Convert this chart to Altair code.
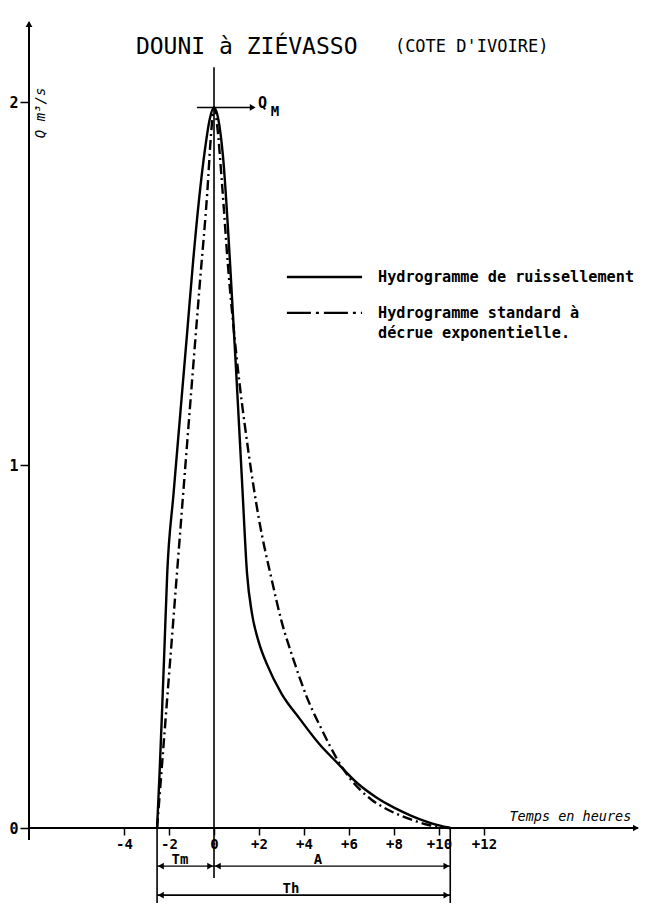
import altair as alt
import pandas as pd

# ---------------- data ----------------
TITLE_MAIN = "DOUNI à ZIÉVASSO"
TITLE_SUB = "(COTE D'IVOIRE)"

# Hydrogramme de ruissellement (solid line)
ruis_t = [-2.53, -2.42, -2.31, -2.20, -2.08, -1.80, -1.50, -1.20, -0.93, -0.65, -0.40, -0.20, 0.00,
          0.20, 0.40, 0.71, 1.00, 1.25, 1.47, 1.69, 2.00, 2.36, 3.00, 3.82, 4.70, 5.47, 6.36,
          7.20, 8.00, 8.80, 9.47, 10.00, 10.50]
ruis_q = [0.00, 0.15, 0.32, 0.50, 0.70, 0.92, 1.14, 1.36, 1.56, 1.74, 1.87, 1.95, 1.985,
          1.95, 1.85, 1.56, 1.24, 0.95, 0.70, 0.59, 0.51, 0.45, 0.37, 0.30, 0.23, 0.18, 0.124,
          0.085, 0.056, 0.033, 0.017, 0.007, 0.0]

# Hydrogramme standard a decrue exponentielle (dash-dot line)
std_t = [-2.53, -1.90, -1.27, -0.63, -0.30, -0.12, 0.00, 0.15, 0.35, 0.62, 1.00, 1.50, 2.00,
         2.58, 3.00, 3.50, 4.13, 4.80, 5.47, 6.00, 6.50, 7.00, 7.50, 8.00, 8.50, 9.00, 9.50,
         10.00, 10.50]
std_q = [0.00, 0.50, 1.00, 1.50, 1.75, 1.92, 1.985, 1.93, 1.78, 1.55, 1.30, 1.05, 0.85,
         0.68, 0.57, 0.47, 0.36, 0.27, 0.19, 0.14, 0.105, 0.078, 0.058, 0.042, 0.029, 0.018, 0.009,
         0.003, 0.0]

x_ticks = [-4, -2, 0, 2, 4, 6, 8, 10, 12]
y_ticks = [0, 1, 2]

Q_MAX = 1.985
T_START = -2.53
T_END = 10.50

legend_labels = ["Hydrogramme de ruissellement", "Hydrogramme standard à", "décrue exponentielle."]

# ---------------- geometry ----------------
W, H = 632, 895
t_dom = [-9.1556, 18.9333]
q_dom = [-0.2066, 2.2590]
xs = alt.Scale(domain=t_dom, nice=False, zero=False)
ys = alt.Scale(domain=q_dom, nice=False, zero=False)
MONO = "DejaVu Sans Mono"

x_axis = alt.Axis(values=x_ticks, offset=-75, domain=False, grid=False, ticks=True,
                  tickSize=7, tickWidth=1.5, tickColor="black",
                  labelExpr="datum.value > 0 ? '+' + datum.value : '' + datum.value",
                  labelFont=MONO, labelFontSize=14, labelFontWeight="bold", labelColor="black",
                  labelPadding=2, labelOverlap=False, title=None)
y_axis = alt.Axis(values=y_ticks, offset=-21, domain=False, grid=False, ticks=True,
                  tickSize=9, tickWidth=1.5, tickColor="black",
                  labelFont=MONO, labelFontSize=15, labelFontWeight="bold", labelColor="black",
                  labelPadding=2, labelOverlap=False, title=None)


def X(f):
    return alt.X(f, type="quantitative", scale=xs, axis=x_axis)


def Y(f):
    return alt.Y(f, type="quantitative", scale=ys, axis=y_axis)


df_ruis = pd.DataFrame({"t": ruis_t, "q": ruis_q})
df_std = pd.DataFrame({"t": std_t, "q": std_q})

solid = alt.Chart(df_ruis).mark_line(color="black", strokeWidth=2.4, interpolate="monotone").encode(
    x=X("t"), y=Y("q"))
dashdot = alt.Chart(df_std).mark_line(color="black", strokeWidth=2.4, interpolate="monotone",
                                      strokeDash=[10, 4, 2, 4]).encode(x=X("t"), y=Y("q"))

# rules: axes, zero line, bounds, dimension lines, Q_M arrow
ax_left = -8.222
rules = pd.DataFrame({
    "t":  [ax_left, ax_left, 0.0, T_START, T_END, T_START, 0.0, T_START, -0.76],
    "t2": [18.85, ax_left, 0.0, T_START, T_END, 0.0, T_END, T_END, 1.70],
    "q":  [0.0, -0.033, -0.138, 0.0, 0.0, -0.105, -0.105, -0.185, Q_MAX],
    "q2": [0.0, 2.22, 2.096, q_dom[0], q_dom[0], -0.105, -0.105, -0.185, Q_MAX],
    "w":  [2.0, 2.0, 1.6, 1.6, 1.6, 1.3, 1.3, 1.6, 1.6],
})
rule_layer = alt.Chart(rules).mark_rule(color="black").encode(
    x=X("t"), x2="t2", y=Y("q"), y2="q2",
    strokeWidth=alt.StrokeWidth("w:Q", scale=None, legend=None))

arrows = pd.DataFrame({
    "t": [ax_left, 18.75, T_START + 0.17, -0.17, 0.17, T_END - 0.17, T_START + 0.17, T_END - 0.17, 1.72],
    "q": [2.215, 0.0, -0.105, -0.105, -0.105, -0.105, -0.185, -0.185, Q_MAX],
    "d": ["up", "right", "left", "right", "left", "right", "left", "right", "right"],
})
arrow_layer = alt.Chart(arrows).mark_point(filled=True, color="black", opacity=1, size=45).encode(
    x=X("t"), y=Y("q"),
    shape=alt.Shape("d:N", scale=alt.Scale(domain=["up", "right", "left"],
                                           range=["triangle-up", "triangle-right", "triangle-left"]),
                    legend=None))

# legend samples
leg_lines = pd.DataFrame({"t": [3.24], "t2": [6.58], "q": [1.518]})
leg_solid = alt.Chart(leg_lines).mark_rule(color="black", strokeWidth=2.4).encode(
    x=X("t"), x2="t2", y=Y("q"))
leg_dd_df = pd.DataFrame({"t": [3.24], "t2": [6.58], "q": [1.419]})
leg_dd = alt.Chart(leg_dd_df).mark_rule(color="black", strokeWidth=2.4, strokeDash=[24, 5, 3, 5]).encode(
    x=X("t"), x2="t2", y=Y("q"))

leg_text = alt.Chart(pd.DataFrame({"t": [7.29, 7.29, 7.29], "q": [1.518, 1.419, 1.364],
                                   "txt": legend_labels})).mark_text(
    font=MONO, fontSize=15.2, fontWeight="bold", align="left", baseline="middle", color="black").encode(
    x=X("t"), y=Y("q"), text="txt:N")

title_main = alt.Chart(pd.DataFrame({"t": [-3.47], "q": [2.151], "txt": [TITLE_MAIN]})).mark_text(
    font=MONO, fontSize=23, align="left", baseline="middle", color="black").encode(
    x=X("t"), y=Y("q"), text="txt:N")
title_sub = alt.Chart(pd.DataFrame({"t": [8.04], "q": [2.151], "txt": [TITLE_SUB]})).mark_text(
    font=MONO, fontSize=17, align="left", baseline="middle", color="black").encode(
    x=X("t"), y=Y("q"), text="txt:N")

qm_q = alt.Chart(pd.DataFrame({"t": [1.95], "q": [1.997], "txt": ["Q"]})).mark_text(
    font=MONO, fontSize=15, fontWeight="bold", align="left", baseline="middle", color="black").encode(
    x=X("t"), y=Y("q"), text="txt:N")
qm_m = alt.Chart(pd.DataFrame({"t": [2.52], "q": [1.972], "txt": ["M"]})).mark_text(
    font=MONO, fontSize=14, fontWeight="bold", align="left", baseline="middle", color="black").encode(
    x=X("t"), y=Y("q"), text="txt:N")

q_title = alt.Chart(pd.DataFrame({"t": [-7.70], "q": [1.97], "txt": ["Q m³/s"]})).mark_text(
    font=MONO, fontSize=14, fontStyle="italic", angle=270, align="center", baseline="middle",
    color="black").encode(x=X("t"), y=Y("q"), text="txt:N")

t_title = alt.Chart(pd.DataFrame({"t": [18.55], "q": [0.012], "txt": ["Temps en heures"]})).mark_text(
    font=MONO, fontSize=13.5, fontStyle="italic", align="right", baseline="bottom",
    color="black").encode(x=X("t"), y=Y("q"), text="txt:N")

dims = alt.Chart(pd.DataFrame({"t": [-1.51, 4.62, 3.42], "q": [-0.100, -0.100, -0.180],
                               "txt": ["Tm", "A", "Th"]})).mark_text(
    font=MONO, fontSize=14, fontWeight="bold", align="center", baseline="alphabetic", color="black").encode(
    x=X("t"), y=Y("q"), text="txt:N")

chart = alt.layer(
    solid, dashdot, rule_layer, arrow_layer, leg_solid, leg_dd, leg_text,
    title_main, title_sub, qm_q, qm_m, q_title, t_title, dims
).properties(
    width=W, height=H, padding=0, autosize=alt.AutoSizeParams(type="none"), background="white"
).configure_view(stroke=None)

chart.save("out.html", embed_options={"renderer": "svg", "actions": False})
